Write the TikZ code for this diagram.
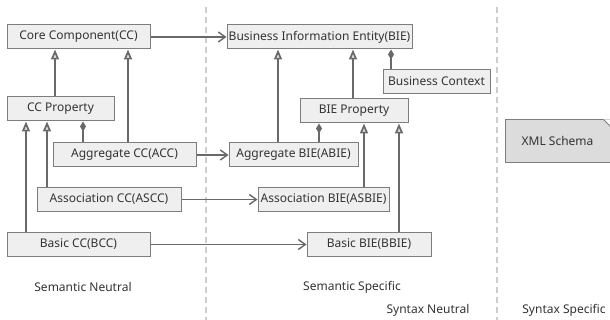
\documentclass[tikz,border=0pt]{standalone}
\usepackage{fontspec}
\setmainfont{Noto Sans}
\usepackage{tikz}
\usetikzlibrary{arrows.meta}
\definecolor{boxFill}{RGB}{239,239,239}
\definecolor{boxLine}{RGB}{125,125,125}
\definecolor{textGray}{RGB}{51,51,51}
\definecolor{lineGray}{RGB}{105,105,105}
\definecolor{sepGray}{RGB}{205,205,205}
\definecolor{noteFill}{RGB}{220,220,220}
\tikzset{
  cls/.style={draw=boxLine, fill=boxFill, line width=1pt, minimum height=24pt, inner sep=0pt, text=textGray, font=\fontsize{12}{14}\selectfont},
  trace/.style={-{Straight Barb[length=7pt,width=10pt]}, draw=lineGray, line width=1.4pt},
  gen/.style={-{Triangle[open,length=10pt,width=8pt,fill=noteFill]}, draw=lineGray, line width=1.7pt},
  part/.style={{Diamond[length=10pt,width=6pt]}-, draw=lineGray, line width=1.7pt},
  sep/.style={draw=sepGray, line width=2pt, dash pattern=on 6pt off 4pt},
  lbl/.style={text=textGray, font=\fontsize{12}{14}\selectfont}
}
\begin{document}
\begin{tikzpicture}[x=1pt,y=-1pt]
  \useasboundingbox (0,0) rectangle (610,320);

  \draw[sep] (206,7) -- (206,320);
  \draw[sep] (497,7) -- (497,320);

  % semantic neutral
  \node[cls, minimum width=143pt] (cc) at (78.5,37) {Core Component(CC)};
  \node[cls, minimum width=107pt] (ccp) at (60.5,109) {CC Property};
  \node[cls, minimum width=143pt] (acc) at (124.5,155) {Aggregate CC(ACC)};
  \node[cls, minimum width=144pt] (ascc) at (109,199.5) {Association CC(ASCC)};
  \node[cls, minimum width=143pt] (bcc) at (78.5,244.5) {Basic CC(BCC)};

  % semantic specific
  \node[cls, minimum width=185pt] (bie) at (319.5,37) {Business Information Entity(BIE)};
  \node[cls, minimum width=107pt] (bctx) at (436.5,81.5) {Business Context};
  \node[cls, minimum width=108pt] (biep) at (354,111) {BIE Property};
  \node[cls, minimum width=129pt] (abie) at (293.5,155) {Aggregate BIE(ABIE)};
  \node[cls, minimum width=131pt] (asbie) at (323.5,199.5) {Association BIE(ASBIE)};
  \node[cls, minimum width=124pt] (bbie) at (369,244.5) {Basic BIE(BBIE)};

  % syntax specific
  \node[cls, minimum width=105pt, minimum height=43pt, fill=noteFill] (xml) at (557.5,141.5) {XML Schema};
  \fill[white] (xml.north east) -- ++(-7,0) -- ++(7,7) -- cycle;
  \draw[boxLine, line width=1pt] ([xshift=-7pt]xml.north east) -- ([yshift=-7pt]xml.north east);

  \node[lbl] (semn) at (83,287) {Semantic Neutral};
  \node[lbl] (sems) at (352,287) {Semantic Specific};
  \node[lbl] (synn) at (428,310) {Syntax Neutral};
  \node[lbl] (syns) at (564,310) {Syntax Specific};

  \draw[trace] (cc) -- (bie);
  \draw[trace] (acc) -- (abie);
  \draw[trace] (ascc) -- (asbie);
  \draw[trace] (bcc) -- (bbie);

  \draw[gen] ([xshift=-5.5pt]ccp.north) -- ([xshift=-5.5pt]ccp.north |- cc.south);
  \draw[gen] ([xshift=3.5pt]acc.north) -- ([xshift=3.5pt]acc.north |- cc.south);
  \draw[gen] ([xshift=-62pt]ascc.north) -- ([xshift=-62pt]ascc.north |- ccp.south);
  \draw[gen] ([xshift=-52.5pt]bcc.north) -- ([xshift=-52.5pt]bcc.north |- ccp.south);
  \draw[part] ([xshift=22.5pt]ccp.south) -- ([xshift=22.5pt]ccp.south |- acc.north);

  \draw[gen] ([xshift=-15.5pt]abie.north) -- ([xshift=-15.5pt]abie.north |- bie.south);
  \draw[gen] ([xshift=-1pt]biep.north) -- ([xshift=-1pt]biep.north |- bie.south);
  \draw[part] ([xshift=71.5pt]bie.south) -- ([xshift=71.5pt]bie.south |- bctx.north);
  \draw[part] ([xshift=-35pt]biep.south) -- ([xshift=-35pt]biep.south |- abie.north);
  \draw[gen] ([xshift=40.5pt]asbie.north) -- ([xshift=40.5pt]asbie.north |- biep.south);
  \draw[gen] ([xshift=30pt]bbie.north) -- ([xshift=30pt]bbie.north |- biep.south);
\end{tikzpicture}
\end{document}
